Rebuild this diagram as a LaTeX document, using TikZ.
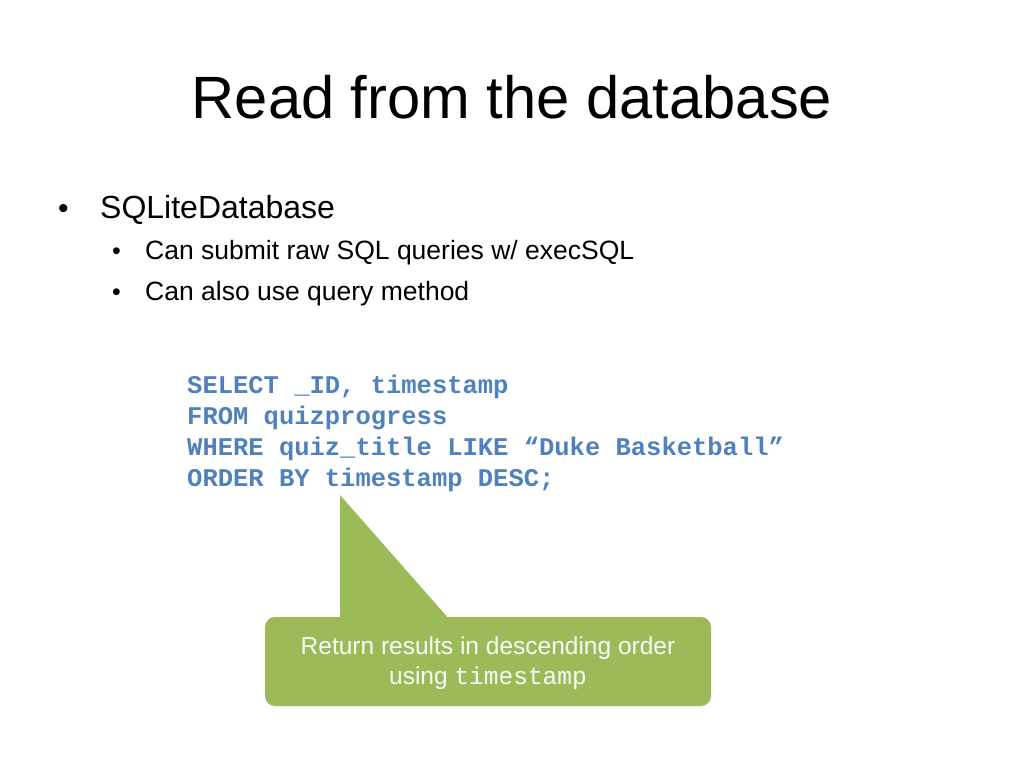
\documentclass[tikz,border=0pt]{standalone}
\usepackage{fontspec}
\setmainfont{Liberation Sans}
\setmonofont{Liberation Mono}
\definecolor{codeblue}{HTML}{4F81BD}
\definecolor{callgreen}{HTML}{9BBB59}
\begin{document}
\begin{tikzpicture}[x=1pt,y=-1pt,
  code/.style={anchor=base west,text=codeblue,font=\fontsize{25.5}{28}\selectfont\ttfamily\bfseries,inner sep=0},
  txt/.style={anchor=base west,inner sep=0}]
\useasboundingbox (0,0) rectangle (1024,768);
\node[anchor=base,inner sep=0,font=\fontsize{59.7}{70}\selectfont] (title) at (512,118) {Read from the database};
\node[txt,font=\fontsize{30}{34}\selectfont] (b1d) at (58,218) {•};
\node[txt,font=\fontsize{32}{36}\selectfont] (b1) at (100,218) {SQLiteDatabase};
\node[txt,font=\fontsize{25}{30}\selectfont] (b2d) at (112,259) {•};
\node[txt,font=\fontsize{26.5}{30}\selectfont] (b2) at (145,259) {Can submit raw SQL queries w/ execSQL};
\node[txt,font=\fontsize{25}{30}\selectfont] (b3d) at (112,300) {•};
\node[txt,font=\fontsize{26.5}{30}\selectfont] (b3) at (145,300) {Can also use query method};
\node[code] (c1) at (187,393) {SELECT \_ID, timestamp};
\node[code] (c2) at (187,424) {FROM quizprogress};
\node[code] (c3) at (187,455) {WHERE quiz\_title LIKE “Duke Basketball”};
\node[code] (c4) at (187,486) {ORDER BY timestamp DESC;};
\fill[callgreen] (340,495) -- (450,620) -- (340,620) -- cycle;
\fill[callgreen,rounded corners=10] (265,617) rectangle (711,706);
\node[align=center,text=white!95!gray,font=\fontsize{24.5}{30}\selectfont] (call) at (488,663)
  {Return results in descending order\\using {\ttfamily timestamp}};
\end{tikzpicture}
\end{document}
